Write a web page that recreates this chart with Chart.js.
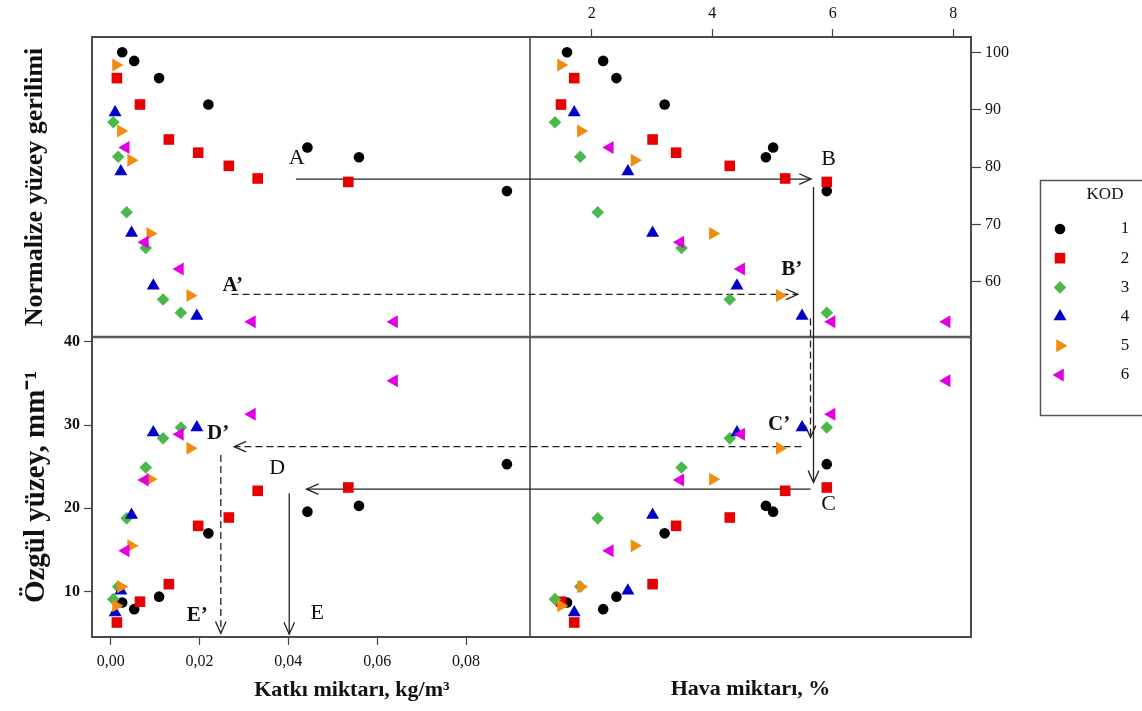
<!DOCTYPE html>
<html>
<head>
<meta charset="utf-8">
<script src="https://cdn.jsdelivr.net/npm/chart.js@4.4.0/dist/chart.umd.min.js"></script>
<style>
  body { margin: 0; background: #fff; }
  canvas { display: block; }
</style>
</head>
<body>
<canvas id="chart" width="1142" height="711"></canvas>
<script>
// KOD groups
const kodlar = ['1', '2', '3', '4', '5', '6'];
const renkler = ['#000000', '#e60000', '#4cb84c', '#0000c8', '#f28c10', '#e000e0'];
const sekiller = ['circle', 'rect', 'rectRot', 'triangle', 'triangle', 'triangle'];
const donme = [0, 0, 0, 0, 90, -90];
const boyut = [5.3, 7.5, 6.3, 7.5, 7.5, 7.5];

// one row per KOD, same sample order in every array
const katki = [
    [0.0026, 0.0053, 0.0109, 0.0220, 0.0443, 0.0559, 0.0892],
    [0.0014, 0.0066, 0.0131, 0.0197, 0.0266, 0.0331, 0.0535],
    [0.0006, 0.0017, 0.0036, 0.0079, 0.0118, 0.0158],
    [0.0010, 0.0023, 0.0047, 0.0096, 0.0194],
    [0.0012, 0.0023, 0.0046, 0.0089, 0.0179],
    [0.0034, 0.0077, 0.0156, 0.0318, 0.0638]
];
const hava = [
    [1.59, 2.19, 2.41, 3.21, 5.01, 4.89, 5.90],
    [1.71, 1.49, 3.01, 3.40, 4.29, 5.21, 5.90],
    [1.39, 1.81, 2.10, 3.49, 4.29, 5.90],
    [1.71, 2.60, 3.01, 4.41, 5.49],
    [1.49, 1.82, 2.71, 4.01, 5.12],
    [2.30, 3.47, 4.48, 5.98, 7.89]
];
const normalize = [
    [100.0, 98.5, 95.5, 90.9, 83.4, 81.7, 75.8],
    [95.5, 90.9, 84.8, 82.5, 80.2, 78.0, 77.4],
    [87.8, 81.8, 72.1, 65.9, 56.9, 54.6],
    [89.5, 79.2, 68.5, 59.3, 54.0],
    [97.8, 86.3, 81.2, 68.4, 57.6],
    [83.4, 66.9, 62.2, 53.0, 53.0]
];
const ozgul = [
    [8.7, 7.9, 9.4, 17.0, 19.6, 20.3, 25.3],
    [6.3, 8.8, 10.9, 17.9, 18.9, 22.1, 22.5],
    [9.1, 10.6, 18.8, 24.9, 28.4, 29.7],
    [7.5, 10.1, 19.2, 29.1, 29.7],
    [8.3, 10.6, 15.5, 23.5, 27.2],
    [14.9, 23.4, 28.9, 31.3, 35.3]
];

// tick labels
const katkiTicks = [0, 0.02, 0.04, 0.06, 0.08];
const havaTicks = [2, 4, 6, 8];
const normTicks = [60, 70, 80, 90, 100];
const ozgulTicks = [10, 20, 30, 40];

// axis ranges
const katkiMin = -0.0042, katkiMax = 0.0944;
const havaMin = 0.976, havaMax = 8.293;
const normMin = 50.36, normMax = 102.67;
const ozgulMin = 4.56, ozgulMax = 40.56;

// arrows: [xAxis, x, yAxis, y]
const oklar = [
    { bas: ['xK', 0.0417, 'yN', 77.9], uc: ['xH', 5.64, 'yN', 77.9], kesik: false },
    { bas: ['xH', 5.68, 'yN', 76.5], uc: ['xH', 5.68, 'yS', 23.1], kesik: false },
    { bas: ['xH', 5.63, 'yS', 22.3], uc: ['xK', 0.0441, 'yS', 22.3], kesik: false },
    { bas: ['xK', 0.0402, 'yS', 21.8], uc: ['xK', 0.0402, 'yS', 4.9], kesik: false },
    { bas: ['xK', 0.0272, 'yN', 57.8], uc: ['xH', 5.42, 'yN', 57.8], kesik: true },
    { bas: ['xH', 5.63, 'yN', 53.6], uc: ['xH', 5.63, 'yS', 28.5], kesik: true },
    { bas: ['xH', 5.48, 'yS', 27.4], uc: ['xK', 0.0278, 'yS', 27.4], kesik: true },
    { bas: ['xK', 0.0248, 'yS', 26.4], uc: ['xK', 0.0248, 'yS', 5.0], kesik: true }
];
const etiketler = [
    ['A', 'xK', 0.0419, 'yN', 81.5, false],
    ['B', 'xH', 5.93, 'yN', 81.3, false],
    ['C', 'xH', 5.93, 'yS', 20.5, false],
    ['D', 'xK', 0.0375, 'yS', 24.8, false],
    ['E', 'xK', 0.0465, 'yS', 7.4, false],
    ['A\u2019', 'xK', 0.0275, 'yN', 59.4, true],
    ['B\u2019', 'xH', 5.32, 'yN', 62.2, true],
    ['C\u2019', 'xH', 5.11, 'yS', 30.1, true],
    ['D\u2019', 'xK', 0.0242, 'yS', 29.0, true],
    ['E\u2019', 'xK', 0.0195, 'yS', 7.1, true]
];

const yazi = "'Liberation Serif', 'Times New Roman', serif";
const koyu = '#444';

function boyla(boy) {
    return s => {
        if (s.isHorizontal()) s.height = boy;
        else s.width = boy;
    };
}

function tikler(liste) {
    return s => { s.ticks = liste.map(v => ({ value: v })); };
}

function gizli(position, stack, stackWeight, min, max, boy) {
    return {
        type: 'linear', position, stack, stackWeight, min, max,
        ticks: { display: false },
        grid: { display: false },
        border: { display: false },
        afterFit: boyla(boy)
    };
}

const izgara = { drawOnChartArea: false, tickLength: 8, color: koyu, tickWidth: 1.2 };

const veriSetleri = [];
kodlar.forEach((kod, i) => {
    const ortak = {
        label: kod,
        pointStyle: sekiller[i],
        pointRotation: donme[i],
        pointRadius: boyut[i],
        pointHoverRadius: boyut[i],
        pointBackgroundColor: renkler[i],
        pointBorderColor: renkler[i],
        pointBorderWidth: 0,
        showLine: false,
        order: 5 - i
    };
    veriSetleri.push({ ...ortak, xAxisID: 'xK', yAxisID: 'yN',
        data: katki[i].map((v, j) => ({ x: v, y: normalize[i][j] })) });
    veriSetleri.push({ ...ortak, xAxisID: 'xH', yAxisID: 'yN2',
        data: hava[i].map((v, j) => ({ x: v, y: normalize[i][j] })) });
    veriSetleri.push({ ...ortak, xAxisID: 'xK', yAxisID: 'yS',
        data: katki[i].map((v, j) => ({ x: v, y: ozgul[i][j] })) });
    veriSetleri.push({ ...ortak, xAxisID: 'xH', yAxisID: 'yS2',
        data: hava[i].map((v, j) => ({ x: v, y: ozgul[i][j] })) });
});

function piksel(chart, p) {
    return [chart.scales[p[0]].getPixelForValue(p[1]), chart.scales[p[2]].getPixelForValue(p[3])];
}

function okCiz(ctx, a, b, kesik) {
    ctx.save();
    ctx.strokeStyle = '#222';
    ctx.lineWidth = 1.3;
    ctx.setLineDash(kesik ? [7, 4] : []);
    ctx.beginPath();
    ctx.moveTo(a[0], a[1]);
    ctx.lineTo(b[0], b[1]);
    ctx.stroke();
    ctx.setLineDash([]);
    const aci = Math.atan2(b[1] - a[1], b[0] - a[0]);
    const L = 13, w = 0.42;
    ctx.beginPath();
    ctx.moveTo(b[0] - L * Math.cos(aci - w), b[1] - L * Math.sin(aci - w));
    ctx.lineTo(b[0], b[1]);
    ctx.lineTo(b[0] - L * Math.cos(aci + w), b[1] - L * Math.sin(aci + w));
    ctx.stroke();
    ctx.restore();
}

function isaret(ctx, stil, x, y, r, derece) {
    ctx.beginPath();
    if (stil === 'circle') {
        ctx.arc(x, y, r, 0, Math.PI * 2);
    } else if (stil === 'rect') {
        const h = r * Math.SQRT1_2;
        ctx.rect(x - h, y - h, 2 * h, 2 * h);
    } else if (stil === 'rectRot') {
        ctx.moveTo(x, y - r);
        ctx.lineTo(x + r, y);
        ctx.lineTo(x, y + r);
        ctx.lineTo(x - r, y);
        ctx.closePath();
    } else {
        let a = derece * Math.PI / 180;
        for (let k = 0; k < 3; k++) {
            const px = x + Math.sin(a) * r, py = y - Math.cos(a) * r;
            if (k) ctx.lineTo(px, py); else ctx.moveTo(px, py);
            a += Math.PI * 2 / 3;
        }
        ctx.closePath();
    }
    ctx.fill();
}

const cizimler = {
    id: 'cizimler',
    beforeDatasetsDraw(chart) {
        const ctx = chart.ctx;
        const ca = chart.chartArea;
        ctx.save();
        ctx.strokeStyle = '#4a4a4a';
        ctx.lineWidth = 2;
        ctx.strokeRect(ca.left, ca.top, ca.right - ca.left, ca.bottom - ca.top);
        const xm = chart.scales.xK.right;
        const ym = chart.scales.yN.bottom;
        ctx.lineWidth = 1.6;
        ctx.beginPath();
        ctx.moveTo(xm, ca.top);
        ctx.lineTo(xm, ca.bottom);
        ctx.stroke();
        ctx.strokeStyle = '#5a5a5a';
        ctx.lineWidth = 2.6;
        ctx.beginPath();
        ctx.moveTo(ca.left, ym);
        ctx.lineTo(ca.right, ym);
        ctx.stroke();
        ctx.restore();

        oklar.forEach(o => okCiz(ctx, piksel(chart, o.bas), piksel(chart, o.uc), o.kesik));

        ctx.save();
        ctx.fillStyle = '#111';
        ctx.textAlign = 'center';
        ctx.textBaseline = 'middle';
        etiketler.forEach(e => {
            ctx.font = (e[5] ? 'bold 21px ' : '22px ') + yazi;
            const p = piksel(chart, [e[1], e[2], e[3], e[4]]);
            ctx.fillText(e[0], p[0], p[1]);
        });
        ctx.restore();
    },
    afterDraw(chart) {
        const ctx = chart.ctx;
        ctx.save();
        // Katki axis title (sits right of the panel centre in the original)
        ctx.fillStyle = '#111';
        ctx.font = 'bold 22px ' + yazi;
        ctx.textAlign = 'center';
        ctx.textBaseline = 'middle';
        ctx.fillText('Katkı miktarı, kg/m³', chart.scales.xK.getPixelForValue(0.0543), 690);

        // legend box
        ctx.strokeStyle = '#555';
        ctx.lineWidth = 1.5;
        ctx.strokeRect(1040.5, 180.5, 120, 235);
        ctx.font = '17px ' + yazi;
        ctx.fillText('KOD', 1105, 195);
        kodlar.forEach((kod, i) => {
            const y = 229 + i * 29.2;
            ctx.fillStyle = renkler[i];
            isaret(ctx, sekiller[i], 1060, y, boyut[i], donme[i]);
            ctx.fillStyle = '#111';
            ctx.fillText(kod, 1125, y);
        });
        ctx.restore();
    }
};

const ctx = document.getElementById('chart').getContext('2d');
const myChart = new Chart(ctx, {
    type: 'scatter',
    data: { datasets: veriSetleri },
    options: {
        responsive: false,
        devicePixelRatio: 1,
        animation: false,
        layout: { padding: 0 },
        plugins: {
            legend: { display: false },
            tooltip: { enabled: false }
        },
        scales: {
            xK: {
                type: 'linear', position: 'bottom', stack: 'alt', stackWeight: 438,
                min: katkiMin, max: katkiMax,
                afterBuildTicks: tikler(katkiTicks),
                afterFit: boyla(74),
                ticks: {
                    font: { family: yazi, size: 16 }, color: '#111', padding: 7,
                    autoSkip: false, maxRotation: 0,
                    callback: v => v.toFixed(2).replace('.', ',')
                },
                grid: izgara,
                border: { display: false }
            },
            xH2: {
                ...gizli('bottom', 'alt', 441, havaMin, havaMax, 74),
                title: {
                    display: true, text: 'Hava miktarı, %', color: '#111',
                    font: { family: yazi, size: 22, weight: 'bold' },
                    padding: { top: 0, bottom: 8 }
                }
            },
            xH: {
                type: 'linear', position: 'top', stack: 'ust', stackWeight: 441,
                min: havaMin, max: havaMax,
                afterBuildTicks: tikler(havaTicks),
                afterFit: boyla(37),
                ticks: { font: { family: yazi, size: 16 }, color: '#111', padding: 6, autoSkip: false, maxRotation: 0 },
                grid: izgara,
                border: { display: false }
            },
            xK2: gizli('top', 'ust', 438, katkiMin, katkiMax, 37),
            yS: {
                type: 'linear', position: 'left', stack: 'sol', stackWeight: 1,
                min: ozgulMin, max: ozgulMax,
                afterBuildTicks: tikler(ozgulTicks),
                afterFit: boyla(92),
                ticks: { font: { family: yazi, size: 16, weight: 'bold' }, color: '#111', padding: 4 },
                grid: izgara,
                border: { display: false },
                title: {
                    display: true, text: 'Özgül yüzey, mm⁻¹', color: '#111',
                    font: { family: yazi, size: 29, weight: 'bold' },
                    padding: { top: 19, bottom: 0 }
                }
            },
            yN: {
                ...gizli('left', 'sol', 1, normMin, normMax, 92),
                title: {
                    display: true, text: 'Normalize yüzey gerilimi', color: '#111',
                    font: { family: yazi, size: 26, weight: 'bold' },
                    padding: { top: 20, bottom: 0 }
                }
            },
            yN2: {
                type: 'linear', position: 'right', stack: 'sag', stackWeight: 1,
                min: normMin, max: normMax,
                afterBuildTicks: tikler(normTicks),
                afterFit: boyla(171),
                ticks: { font: { family: yazi, size: 16 }, color: '#111', padding: 4 },
                grid: { ...izgara, tickLength: 10 },
                border: { display: false }
            },
            yS2: gizli('right', 'sag', 1, ozgulMin, ozgulMax, 171)
        }
    },
    plugins: [cizimler]
});
</script>
</body>
</html>
